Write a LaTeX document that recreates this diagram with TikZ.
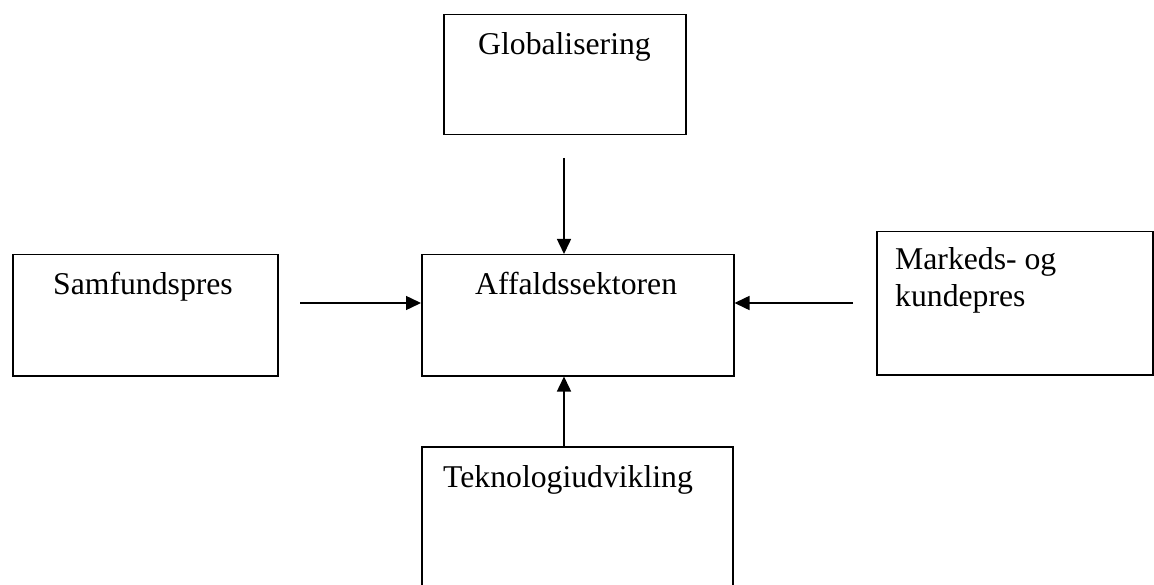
\documentclass[tikz,border=0pt]{standalone}
\usepackage{fontspec}
\setmainfont{Liberation Serif}
\usetikzlibrary{arrows.meta}
\begin{document}
\begin{tikzpicture}[x=1pt,y=-1pt,
  boxshape/.style={draw,line width=1.5pt,rectangle,inner sep=0pt,anchor=north west},
  lbl/.style={anchor=base west,inner sep=0pt,font=\fontsize{31.7}{37}\selectfont,align=left},
  conn/.style={line width=1.5pt,-{Triangle[length=15pt,width=14pt]}}]
\useasboundingbox (0,0) rectangle (1154,585);
\clip (0,0) rectangle (1154,585);
\node[boxshape,minimum width=242pt,minimum height=120pt] (glob) at (443,14) {};
\node[boxshape,minimum width=265pt,minimum height=121pt] (samf) at (12,254) {};
\node[boxshape,minimum width=312pt,minimum height=121pt] (affald) at (421,254) {};
\node[boxshape,minimum width=276pt,minimum height=143pt] (mark) at (876,231) {};
\node[boxshape,minimum width=311pt,minimum height=160pt] (tekn) at (421,446) {};
\node[lbl] (globt) at (478,55) {Globalisering};
\node[lbl] (samft) at (53,295) {Samfundspres};
\node[lbl] (affaldt) at (475,295) {Affaldssektoren};
\node[lbl] (markt1) at (895,270) {Markeds- og};
\node[lbl] (markt2) at (895,307) {kundepres};
\node[lbl] (teknt) at (443,487) {Teknologiudvikling};
\coordinate (gstart) at (564,158);
\coordinate (sstart) at (300,303);
\coordinate (mstart) at (853,303);
\coordinate (tx) at (564,0);
\draw[conn] (gstart) -- (gstart |- affald.north);
\draw[conn] (sstart) -- (sstart -| affald.west);
\draw[conn] (mstart) -- (mstart -| affald.east);
\draw[conn] (tx |- tekn.north) -- (tx |- affald.south);
\end{tikzpicture}
\end{document}
